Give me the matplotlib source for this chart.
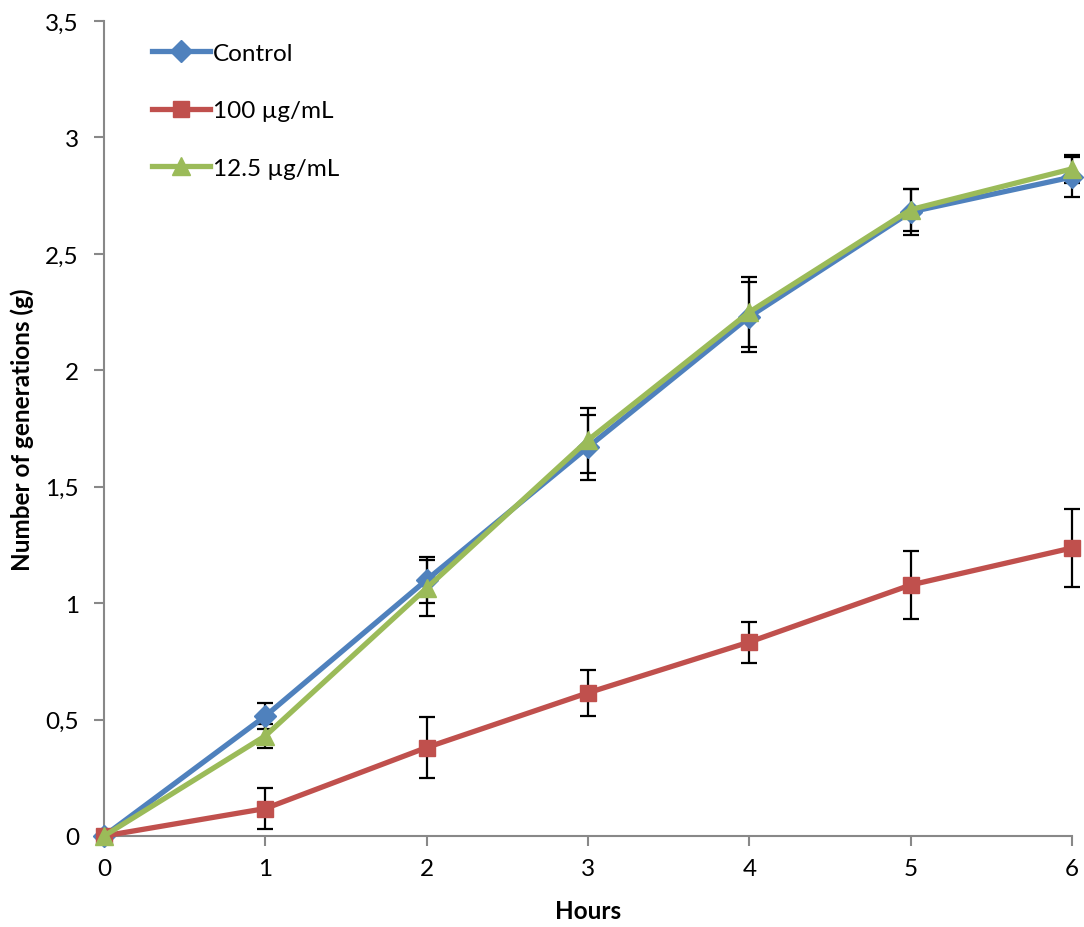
import matplotlib.pyplot as plt
from matplotlib.ticker import FuncFormatter

# === Dados ===
hours = [0, 1, 2, 3, 4, 5, 6]
control = [0.0, 0.515, 1.10, 1.67, 2.23, 2.68, 2.83]
control_err = [0.0, 0.056, 0.10, 0.14, 0.15, 0.10, 0.085]
c100 = [0.0, 0.118, 0.38, 0.615, 0.833, 1.078, 1.237]
c100_err = [0.0, 0.088, 0.131, 0.10, 0.088, 0.144, 0.168]
c125 = [0.0, 0.43, 1.065, 1.70, 2.25, 2.69, 2.865]
c125_err = [0.0, 0.05, 0.12, 0.14, 0.15, 0.09, 0.06]

plt.rcParams['font.family'] = ['Lato', 'DejaVu Sans']

fig = plt.figure(figsize=(10.84, 9.28), dpi=100)
ax = fig.add_axes([104 / 1084, 1 - 837 / 928, (1072 - 104) / 1084, (837 - 22) / 928])

series = [
    (control, control_err, '#4F81BD', 'D', 11, 'Control'),
    (c100, c100_err, '#C0504D', 's', 11, '100 µg/mL'),
    (c125, c125_err, '#9BBB59', '^', 13, '12.5 µg/mL'),
]

for vals, err, cor, mk, ms, nome in series:
    ax.errorbar(hours, vals, yerr=err, fmt='none', ecolor='black',
                elinewidth=1.6, capsize=6, capthick=1.6, zorder=2, clip_on=False)
for vals, err, cor, mk, ms, nome in series:
    ax.plot(hours, vals, color=cor, lw=3.8, marker=mk, markersize=ms,
            label=nome, zorder=3, clip_on=False)

ax.set_xlim(0, 6)
ax.set_ylim(0, 3.5)
ax.set_xticks(hours)
ax.set_yticks([0, 0.5, 1, 1.5, 2, 2.5, 3, 3.5])
ax.yaxis.set_major_formatter(FuncFormatter(lambda v, p: ('%g' % v).replace('.', ',')))

for s in ['top', 'right']:
    ax.spines[s].set_visible(False)
for s in ['left', 'bottom']:
    ax.spines[s].set_color('#888888')
    ax.spines[s].set_linewidth(1.5)
ax.tick_params(axis='both', colors='#888888', length=7, width=1.5,
               labelsize=17.5, labelcolor='black')
ax.tick_params(axis='y', pad=11)
ax.tick_params(axis='x', pad=9)

ax.set_xlabel('Hours', fontsize=17.5, fontweight='bold', labelpad=14)
ax.set_ylabel('Number of generations (g)', fontsize=17.5, fontweight='bold', labelpad=8)

ax.legend(loc='upper left', bbox_to_anchor=(0.027, 1.0), frameon=False,
          fontsize=17.5, handlelength=2.4, handletextpad=0.1, labelspacing=1.5)

plt.savefig('out.png', dpi=100)
